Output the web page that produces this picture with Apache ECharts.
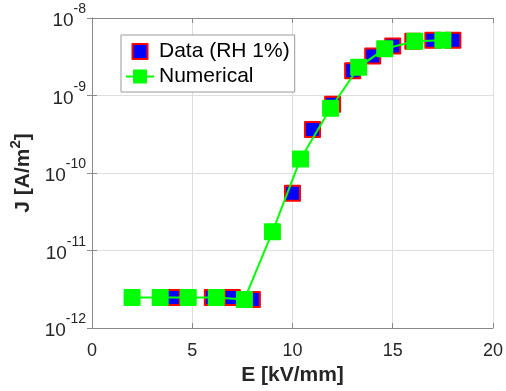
<!DOCTYPE html>
<html>
<head>
<meta charset="utf-8">
<script src="https://cdn.jsdelivr.net/npm/echarts@6/dist/echarts.min.js"></script>
<style>
  html, body { margin: 0; padding: 0; background: #fff; }
  #chart { width: 506px; height: 391px; }
</style>
</head>
<body>
<div id="chart"></div>
<script>
// measured data (RH 1%)
const dataE = [4, 6, 7, 8, 10, 11, 12, 13, 14, 15, 16, 17, 18];
const dataJ = [2.47e-12, 2.47e-12, 2.47e-12, 2.33e-12, 5.47e-11, 3.64e-10, 7.7e-10, 2.09e-9, 3.23e-9, 4.34e-9, 5.0e-9, 5.16e-9, 5.16e-9];

// numerical model
const numE = [2.0, 3.4, 4.8, 6.2, 7.6, 9.0, 10.4, 11.9, 13.3, 14.6, 16.1, 17.5];
const numJ = [2.47e-12, 2.47e-12, 2.47e-12, 2.47e-12, 2.33e-12, 1.74e-11, 1.52e-10, 6.84e-10, 2.31e-9, 4.02e-9, 5.0e-9, 5.16e-9];

const xTicks = [0, 5, 10, 15, 20];
const yDecades = [-12, -11, -10, -9, -8];

const FONT = '"Liberation Sans", Arial, Helvetica, sans-serif';
const AXIS_GRAY = '#8a8a8a';
const TEXT = '#262626';

// minor log grid lines (2..9 x 10^d)
const minorLines = [];
yDecades.slice(0, -1).forEach(d => {
  for (let k = 2; k <= 9; k++) minorLines.push({ yAxis: k * Math.pow(10, d) });
});

const chart = echarts.init(document.getElementById('chart'));

const supLabel = v => {
  const e = Math.round(Math.log10(v));
  return yDecades.includes(e) ? '{b|10}{s|' + e + '}' : '';
};

const boxSides = {
  axisLine: { show: true, lineStyle: { color: AXIS_GRAY, width: 1 } },
  axisTick: { show: true, inside: true, length: 5, lineStyle: { color: AXIS_GRAY } },
};

chart.setOption({
  animation: false,
  grid: { left: 92, right: 12, top: 18, bottom: 57 },
  legend: {
    left: 121,
    top: 35,
    orient: 'vertical',
    padding: [6, 5, 5, 4],
    itemGap: 4,
    itemWidth: 28,
    itemHeight: 15,
    borderColor: '#9a9a9a',
    borderWidth: 1,
    borderRadius: 0,
    backgroundColor: '#fff',
    textStyle: { fontFamily: FONT, fontSize: 21, color: '#000' },
    data: [
      { name: 'Data (RH 1%)', icon: 'path://M0,0L10,0L10,10L0,10Z' },
      { name: 'Numerical' },
    ],
  },
  xAxis: [
    {
      type: 'value',
      min: 0,
      max: 20,
      interval: 5,
      name: 'E [kV/mm]',
      nameLocation: 'middle',
      nameGap: 37,
      nameTextStyle: { fontFamily: FONT, fontSize: 21, fontWeight: 'bold', color: TEXT },
      ...boxSides,
      axisLabel: { fontFamily: FONT, fontSize: 18, color: TEXT, margin: 14,
        formatter: v => (xTicks.includes(v) ? String(v) : '') },
      splitLine: { show: true, lineStyle: { color: '#dedede', width: 1 } },
    },
    {
      type: 'value',
      position: 'top',
      min: 0,
      max: 20,
      interval: 5,
      ...boxSides,
      axisLabel: { show: false },
      splitLine: { show: false },
    },
  ],
  yAxis: [
    {
      type: 'log',
      logBase: 10,
      min: 1e-12,
      max: 1e-8,
      name: '{t|J [A/m}{u|2}{t|]}',
      nameLocation: 'middle',
      nameGap: 52,
      nameTextStyle: {
        rich: {
          t: { fontFamily: FONT, fontSize: 21, fontWeight: 'bold', color: TEXT, verticalAlign: 'bottom' },
          u: { fontFamily: FONT, fontSize: 15, fontWeight: 'bold', color: TEXT, verticalAlign: 'bottom', padding: [0, 0, 10, 0] },
        },
      },
      ...boxSides,
      axisLabel: {
        margin: 6,
        padding: [0, 0, 3, 0],
        formatter: supLabel,
        rich: {
          b: { fontFamily: FONT, fontSize: 19, lineHeight: 19, color: TEXT, verticalAlign: 'bottom' },
          s: { fontFamily: FONT, fontSize: 14, color: TEXT, verticalAlign: 'bottom', padding: [0, 0, 14, 0] },
        },
      },
      splitLine: { show: true, lineStyle: { color: '#dedede', width: 1 } },
    },
    {
      type: 'log',
      logBase: 10,
      min: 1e-12,
      max: 1e-8,
      position: 'right',
      ...boxSides,
      axisLabel: { show: false },
      splitLine: { show: false },
    },
  ],
  series: [
    {
      name: 'Data (RH 1%)',
      type: 'scatter',
      symbol: 'rect',
      symbolSize: 15,
      itemStyle: { color: '#0000ff', borderColor: '#ff0000', borderWidth: 2, borderJoin: 'round', opacity: 1 },
      data: dataE.map((e, i) => [e, dataJ[i]]),
      z: 3,
      markLine: {
        silent: true,
        symbol: 'none',
        label: { show: false },
        lineStyle: { color: '#e6e6e6', type: 'solid', width: 1 },
        data: minorLines,
        z: 1,
      },
    },
    {
      name: 'Numerical',
      type: 'line',
      symbol: 'rect',
      symbolSize: 15,
      showAllSymbol: true,
      color: '#00ff00',
      lineStyle: { color: '#00ff00', width: 2 },
      itemStyle: { color: '#00ff00', borderColor: '#00ff00', borderWidth: 2, borderJoin: 'round' },
      data: numE.map((e, i) => [e, numJ[i]]),
      z: 4,
    },
  ],
});
</script>
</body>
</html>
